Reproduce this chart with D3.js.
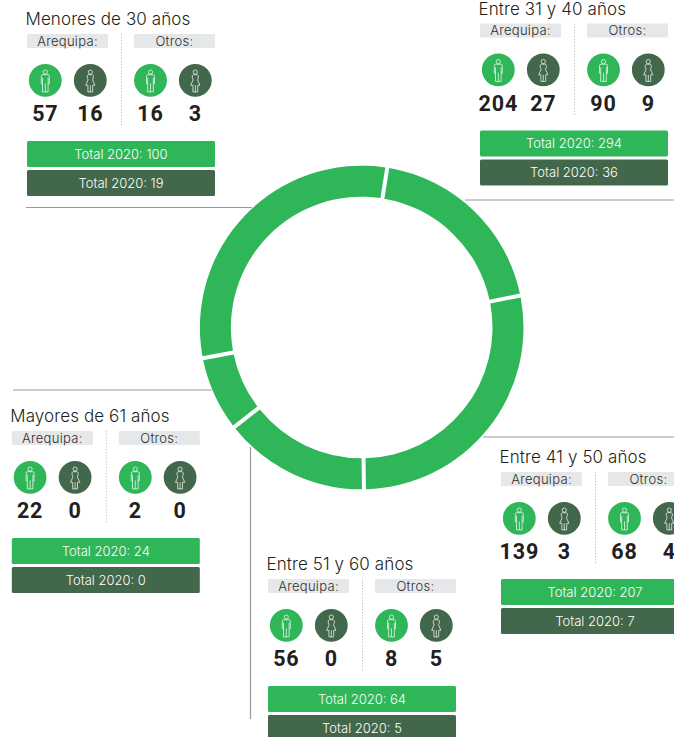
<!DOCTYPE html>
<html lang="es">
<head>
  <meta charset="UTF-8">
  <title>Colaboradores por edad</title>
  <script src="https://cdn.jsdelivr.net/npm/d3@7"></script>
  <style>
    html, body { margin: 0; background: #fff; overflow: hidden; }
    svg { display: block; }
    text { font-family: Inter, sans-serif; fill: #231f20; }
    .title { font-size: 17px; font-weight: 300; letter-spacing: .1px; }
    .place { font-size: 13px; font-weight: 300; text-anchor: middle; fill: #2f2f31; letter-spacing: .3px; }
    .num { font-family: Roboto, sans-serif; font-size: 21.5px; font-weight: 700; text-anchor: middle; letter-spacing: .8px; }
    .total { font-size: 13px; font-weight: 300; text-anchor: middle; fill: #fff; }
  </style>
</head>
<body>
  <svg id="chart" width="674" height="737"></svg>
  <script>
    // datos
    const groups = ['Menores de 30 años', 'Entre 31 y 40 años', 'Entre 41 y 50 años', 'Entre 51 y 60 años', 'Mayores de 61 años'];
    const arequipaMen = [57, 204, 139, 56, 22];
    const arequipaWomen = [16, 27, 3, 0, 0];
    const otrosMen = [16, 90, 68, 8, 2];
    const otrosWomen = [3, 9, 4, 5, 0];
    const totalMen = [100, 294, 207, 64, 24];
    const totalWomen = [19, 36, 7, 5, 0];
    // porcentaje del anillo, estimado del dibujo (no es proporcional a los totales)
    const ringGroups = ['Entre 31 y 40 años', 'Entre 41 y 50 años', 'Entre 51 y 60 años', 'Mayores de 61 años', 'Menores de 30 años'];
    const ringShares = [19.3, 27.95, 14.67, 7.5, 30.58];

    const green = '#2fb659';
    const dark = '#43674a';

    const svg = d3.select('#chart');

    // lineas guia
    const guides = [
      [26, 207.5, 252, 207.5],
      [465, 200, 674, 200],
      [483, 437, 674, 437],
      [250.5, 447, 250.5, 719],
      [13, 390, 212, 390]
    ];
    svg.append('g').selectAll('line').data(guides).join('line')
      .attr('x1', d => d[0]).attr('y1', d => d[1])
      .attr('x2', d => d[2]).attr('y2', d => d[3])
      .attr('stroke', '#999').attr('stroke-width', 1.2);

    // anillo
    const startAngle = 9.1 * Math.PI / 180;
    const pie = d3.pie().sort(null)
      .startAngle(startAngle)
      .endAngle(startAngle + 2 * Math.PI);
    const arc = d3.arc()
      .innerRadius(130.8)
      .outerRadius(161.8)
      .padRadius(146)
      .padAngle(4 / 146);
    svg.append('g')
      .attr('transform', 'translate(361.7,327.5)')
      .selectAll('path').data(pie(ringShares)).join('path')
      .attr('d', arc)
      .attr('fill', green);

    // iconos, coordenadas locales respecto al centro del circulo
    const manPath = 'M-2.6 -5.6H2.6Q4 -5.6 4 -4V3.5H2.8V11.6H-2.8V3.5H-4V-4Q-4 -5.6 -2.6 -5.6ZM0 3V11.6M-2.8 -2.5V3.5M2.8 -2.5V3.5';
    const womanPath = 'M-2 -5.6H2Q3.6 -5 3 -2.5L2.2 -.5L4.6 5H2.4V11.6H-2.4V5H-4.6L-2.2 -.5L-3 -2.5Q-3.6 -5 -2 -5.6ZM0 5V11.6';

    function icon(g, cx, cy, fill, female) {
      const c = g.append('g').attr('transform', `translate(${cx},${cy})`);
      c.append('circle').attr('r', 16.4).attr('fill', fill);
      c.append('circle').attr('cy', -8.2).attr('r', 2.1)
        .attr('fill', 'none').attr('stroke', '#fff').attr('stroke-width', .7);
      c.append('path').attr('d', female ? womanPath : manPath)
        .attr('fill', 'none').attr('stroke', '#fff').attr('stroke-width', .7);
    }

    // esquina de cada panel (izquierda de la barra Arequipa, arriba)
    const panelX = [27, 480, 501, 268, 11.8];
    const panelY = [34, 23.5, 472, 579, 431];

    groups.forEach((name, i) => {
      const g = svg.append('g').attr('transform', `translate(${panelX[i]},${panelY[i]})`);

      g.append('text').attr('class', 'title').attr('x', -1.5).attr('y', -9).text(name);

      [['Arequipa:', 0], ['Otros:', 107]].forEach(([label, x]) => {
        g.append('rect').attr('x', x).attr('width', 81).attr('height', 14).attr('fill', '#e6e7e8');
        g.append('text').attr('class', 'place').attr('x', x + 40.5).attr('y', 11.5).text(label);
      });

      g.append('line')
        .attr('x1', 94.5).attr('x2', 94.5).attr('y1', 0).attr('y2', 93)
        .attr('stroke', '#c4c6c8').attr('stroke-width', 1).attr('stroke-dasharray', '1.5 1.5');

      const cols = [
        [18.3, arequipaMen[i], green, false],
        [63.3, arequipaWomen[i], dark, true],
        [123.5, otrosMen[i], green, false],
        [168.3, otrosWomen[i], dark, true]
      ];
      cols.forEach(([x, v, fill, female]) => {
        icon(g, x, 46.3, fill, female);
        g.append('text').attr('class', 'num').attr('x', x).attr('y', 87).text(v);
      });

      [[totalMen[i], green, 107], [totalWomen[i], dark, 136]].forEach(([v, fill, y]) => {
        g.append('rect').attr('y', y).attr('width', 188).attr('height', 26).attr('rx', 1.5).attr('fill', fill);
        g.append('text').attr('class', 'total').attr('x', 94).attr('y', y + 17.5).text(`Total 2020: ${v}`);
      });
    });
  </script>
</body>
</html>
